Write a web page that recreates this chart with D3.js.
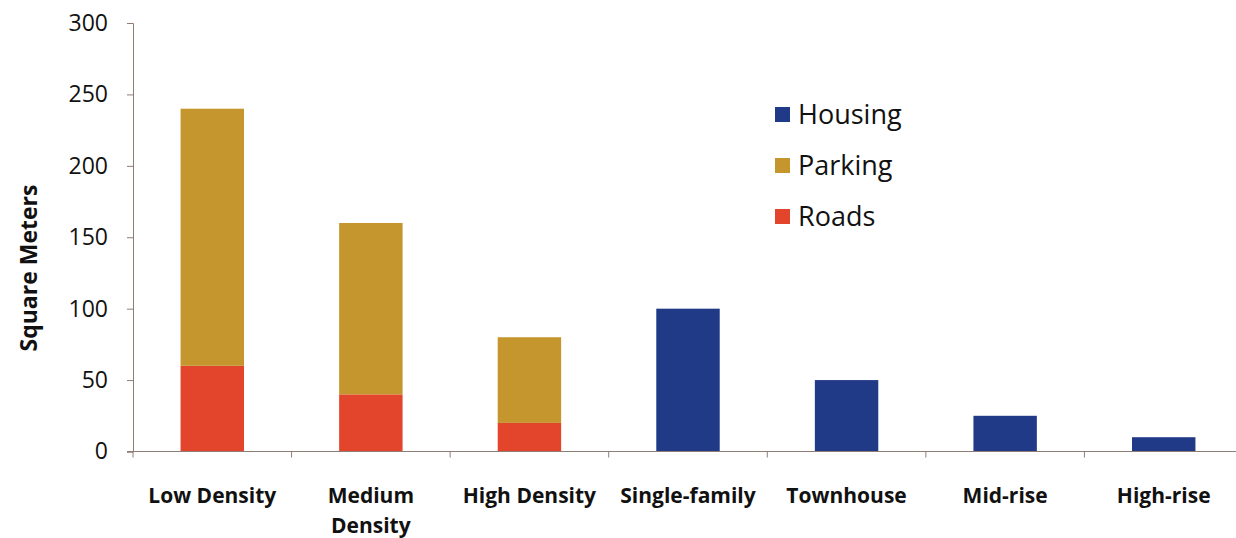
<!DOCTYPE html>
<html>
<head>
<meta charset="utf-8">
<script src="https://cdn.jsdelivr.net/npm/d3@7"></script>
<style>
  body { margin: 0; background: #fff; }
  text { font-family: "Open Sans", "Liberation Sans", sans-serif; fill: #111; }
</style>
</head>
<body>
<div id="chart"></div>
<script>
var categories = ["Low Density", "Medium Density", "High Density", "Single-family", "Townhouse", "Mid-rise", "High-rise"];
var roads   = [60, 40, 20, 0, 0, 0, 0];
var parking = [180, 120, 60, 0, 0, 0, 0];
var housing = [0, 0, 0, 100, 50, 25, 10];
var yTicks = [0, 50, 100, 150, 200, 250, 300];
var seriesNames = ["Housing", "Parking", "Roads"];

var colors = { Housing: "#213a87", Parking: "#c4962d", Roads: "#e2452b" };
var axisColor = "#8e7d75";

var width = 1236, height = 538;
// the category axis runs a little past the right edge, as in the original
var margin = { top: 23, right: -7, bottom: 87, left: 133 };

var rows = categories.map(function (c, i) {
    return { cat: c, Roads: roads[i], Parking: parking[i], Housing: housing[i] };
});

var svg = d3.select("#chart").append("svg")
    .attr("width", width)
    .attr("height", height);

var x = d3.scaleBand()
    .domain(categories)
    .range([margin.left, width - margin.right])
    .paddingInner(0.6)
    .paddingOuter(0.3);

var y = d3.scaleLinear()
    .domain([0, 300])
    .range([height - margin.bottom + 0.5, margin.top]);

var stack = d3.stack().keys(["Roads", "Parking", "Housing"]);
var layers = stack(rows);

svg.append("g").selectAll("g")
    .data(layers)
    .enter().append("g")
    .attr("fill", function (d) { return colors[d.key]; })
    .selectAll("rect")
    .data(function (d) { return d; })
    .enter().append("rect")
    .attr("x", function (d) { return x(d.data.cat); })
    .attr("width", x.bandwidth())
    .attr("y", function (d) { return y(d[1]); })
    .attr("height", function (d) { return y(d[0]) - y(d[1]); });

// y axis
var yAxis = svg.append("g")
    .attr("transform", "translate(" + margin.left + ",0)")
    .call(d3.axisLeft(y).tickValues(yTicks).tickSize(6).tickPadding(19));
yAxis.select(".domain").attr("stroke", axisColor);
yAxis.selectAll(".tick line").attr("stroke", axisColor);
yAxis.selectAll(".tick text")
    .style("font-size", "23px")
    .attr("fill", "#111");

// x axis with ticks between categories
var xAxisG = svg.append("g")
    .attr("transform", "translate(0," + y(0) + ")");
xAxisG.append("line")
    .attr("x1", margin.left - 6).attr("x2", width)
    .attr("stroke", axisColor);
xAxisG.selectAll(".sep")
    .data(d3.range(categories.length + 1))
    .enter().append("line")
    .attr("x1", function (i) { return margin.left + i * x.step(); })
    .attr("x2", function (i) { return margin.left + i * x.step(); })
    .attr("y1", 0).attr("y2", 6)
    .attr("stroke", axisColor);

var labels = xAxisG.selectAll(".lbl")
    .data(categories)
    .enter().append("text")
    .attr("text-anchor", "middle")
    .attr("x", function (d) { return x(d) + x.bandwidth() / 2; })
    .style("font-size", "21px")
    .style("font-weight", "bold");
labels.each(function (d) {
    var t = d3.select(this);
    var parts = d === "Medium Density" ? ["Medium", "Density"] : [d];
    parts.forEach(function (p, k) {
        t.append("tspan")
            .attr("x", x(d) + x.bandwidth() / 2)
            .attr("y", 51 + k * 30)
            .text(p);
    });
});

// y axis title
svg.append("text")
    .attr("transform", "translate(37," + 268 + ") rotate(-90)")
    .attr("text-anchor", "middle")
    .style("font-size", "23px")
    .style("font-weight", "bold")
    .text("Square Meters");

// legend
var legend = svg.append("g").selectAll("g")
    .data(seriesNames)
    .enter().append("g")
    .attr("transform", function (d, i) { return "translate(775," + (107 + i * 51) + ")"; });
legend.append("rect")
    .attr("width", 15).attr("height", 15)
    .attr("fill", function (d) { return colors[d]; });
legend.append("text")
    .attr("x", 23).attr("y", 17)
    .style("font-size", "27px")
    .text(function (d) { return d; });
</script>
</body>
</html>
